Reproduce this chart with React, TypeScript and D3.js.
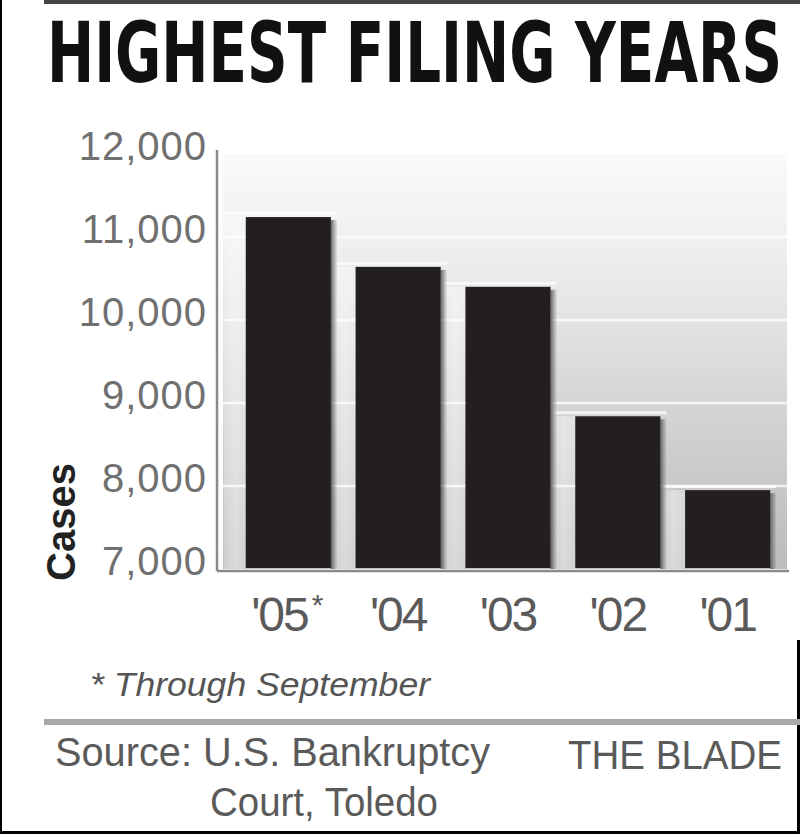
import React from "react";
import * as d3 from "d3";

const categories = ["'05*", "'04", "'03", "'02", "'01"];
const cases = [11240, 10640, 10400, 8840, 7950];
const yTicks = [7000, 8000, 9000, 10000, 11000, 12000];

const W = 800;
const H = 834;

export default function App() {
  const plot = { x0: 223, x1: 787, y0: 154, y1: 569 };
  const x = d3
    .scaleBand<string>()
    .domain(categories)
    .range([226, 790])
    .paddingInner(0.225)
    .paddingOuter(0.18);
  const y = d3.scaleLinear().domain([7000, 12000]).range([plot.y1, plot.y0]);
  const fmt = d3.format(",");
  const bw = x.bandwidth();

  return (
    <div style={{ position: "fixed", left: 0, top: 0 }}>
      <svg width={W} height={H} style={{ display: "block", background: "#fff" }}>
        <defs>
          <linearGradient id="bg" x1="0" y1="0" x2="0" y2="1">
            <stop offset="0" stopColor="#fafafa" />
            <stop offset="0.2" stopColor="#f0f0f0" />
            <stop offset="0.4" stopColor="#e3e3e3" />
            <stop offset="0.6" stopColor="#d5d5d5" />
            <stop offset="0.8" stopColor="#c8c8c8" />
            <stop offset="1" stopColor="#bcbcbc" />
          </linearGradient>
          <linearGradient id="strip" x1="0" y1="0" x2="1" y2="0">
            <stop offset="0" stopColor="#ffffff" stopOpacity="0.25" />
            <stop offset="0.5" stopColor="#ffffff" stopOpacity="0.45" />
            <stop offset="1" stopColor="#ffffff" stopOpacity="0.3" />
          </linearGradient>
          <linearGradient id="shadow" x1="0" y1="0" x2="1" y2="0">
            <stop offset="0" stopColor="#555" stopOpacity="0.9" />
            <stop offset="1" stopColor="#888" stopOpacity="0.2" />
          </linearGradient>
        </defs>

        {/* frame */}
        <rect x={44} y={0} width={756} height={4} fill="#444" />
        <rect x={0} y={0} width={2} height={H} fill="#000" />
        <rect x={0} y={H - 3} width={W} height={3} fill="#000" />
        <rect x={W - 3} y={640} width={3} height={H - 640} fill="#000" />

        {/* title */}
        <text
          transform="translate(47,82) scale(1,1.34)"
          x={0}
          y={0}
          textLength={735}
          lengthAdjust="spacingAndGlyphs"
          fontFamily="'Liberation Sans Narrow', 'DejaVu Sans Condensed', 'Liberation Sans', sans-serif"
          fontWeight="bold"
          fontSize={62}
          fill="#111"
        >
          HIGHEST FILING YEARS
        </text>

        {/* plot background */}
        <rect
          x={plot.x0}
          y={plot.y0}
          width={plot.x1 - plot.x0}
          height={plot.y1 - plot.y0}
          fill="url(#bg)"
        />

        {/* bar light strips & highlights */}
        {categories.map((c, i) => {
          const bx = x(c)!;
          const top = y(cases[i]);
          return (
            <g key={"s" + c}>
              <rect x={bx - 22} y={top} width={22} height={plot.y1 - top} fill="url(#strip)" />
              <rect x={bx - 22} y={top - 5} width={bw + 28} height={3} fill="#fff" opacity={0.7} />
            </g>
          );
        })}

        {/* gridlines */}
        {yTicks.slice(1, -1).map((t) => (
          <line
            key={"g" + t}
            x1={plot.x0}
            x2={plot.x1}
            y1={y(t)}
            y2={y(t)}
            stroke="#fff"
            strokeOpacity={0.75}
            strokeWidth={2.5}
          />
        ))}

        {/* bars */}
        {categories.map((c, i) => {
          const bx = x(c)!;
          const top = y(cases[i]);
          return (
            <g key={"b" + c}>
              <rect x={bx + bw} y={top + 3} width={6} height={plot.y1 - top - 3} fill="url(#shadow)" />
              <rect x={bx} y={top} width={bw} height={plot.y1 - top - 1} fill="#231f20" />
            </g>
          );
        })}

        {/* axes */}
        <line x1={217} x2={217} y1={150} y2={571} stroke="#8a8a8a" strokeWidth={2.5} />
        <line x1={217} x2={789} y1={571} y2={571} stroke="#8a8a8a" strokeWidth={2.5} />

        {/* y tick labels */}
        {yTicks.map((t) => (
          <text
            key={"y" + t}
            x={207}
            y={y(t) + 6}
            textAnchor="end"
            fontFamily="'Liberation Sans', Arial, sans-serif"
            fontSize={40}
            letterSpacing={1}
            fill="#707070"
          >
            {fmt(t)}
          </text>
        ))}

        {/* x labels */}
        {categories.map((c) => {
          const isStar = c.endsWith("*");
          const base = isStar ? c.slice(0, -1) : c;
          return (
            <text
              key={"x" + c}
              x={x(c)! + bw / 2 + (isStar ? -2 : 0)}
              y={631}
              textAnchor="middle"
              fontFamily="'Liberation Sans', Arial, sans-serif"
              fontSize={48}
              letterSpacing={-2}
              fill="#5a5a5a"
            >
              {base}
              {isStar ? (
                <tspan fontSize={30} dy={-16} dx={4}>
                  *
                </tspan>
              ) : null}
            </text>
          );
        })}

        {/* y axis title */}
        <text
          transform="translate(75,522) rotate(-90)"
          textAnchor="middle"
          fontFamily="'Liberation Sans Narrow', 'Liberation Sans', Arial, sans-serif"
          fontWeight="bold"
          fontSize={40}
          fill="#222"
        >
          Cases
        </text>

        {/* footnote */}
        <text
          x={90}
          y={696}
          textLength={340}
          lengthAdjust="spacingAndGlyphs"
          fontFamily="'Liberation Sans', Arial, sans-serif"
          fontStyle="italic"
          fontSize={34}
          fill="#555"
        >
          * Through September
        </text>

        {/* separator */}
        <rect x={44} y={719} width={756} height={6} fill="#a8a8a8" />

        {/* source */}
        <text
          x={55}
          y={766}
          textLength={435}
          lengthAdjust="spacingAndGlyphs"
          fontFamily="'Liberation Sans', Arial, sans-serif"
          fontSize={40}
          fill="#5a5a5a"
        >
          Source: U.S. Bankruptcy
        </text>
        <text
          x={210}
          y={816}
          textLength={228}
          lengthAdjust="spacingAndGlyphs"
          fontFamily="'Liberation Sans', Arial, sans-serif"
          fontSize={40}
          fill="#5a5a5a"
        >
          Court, Toledo
        </text>
        <text
          x={568}
          y={769}
          textLength={214}
          lengthAdjust="spacingAndGlyphs"
          fontFamily="'Liberation Sans', Arial, sans-serif"
          fontSize={40}
          fill="#5a5a5a"
        >
          THE BLADE
        </text>
      </svg>
    </div>
  );
}
